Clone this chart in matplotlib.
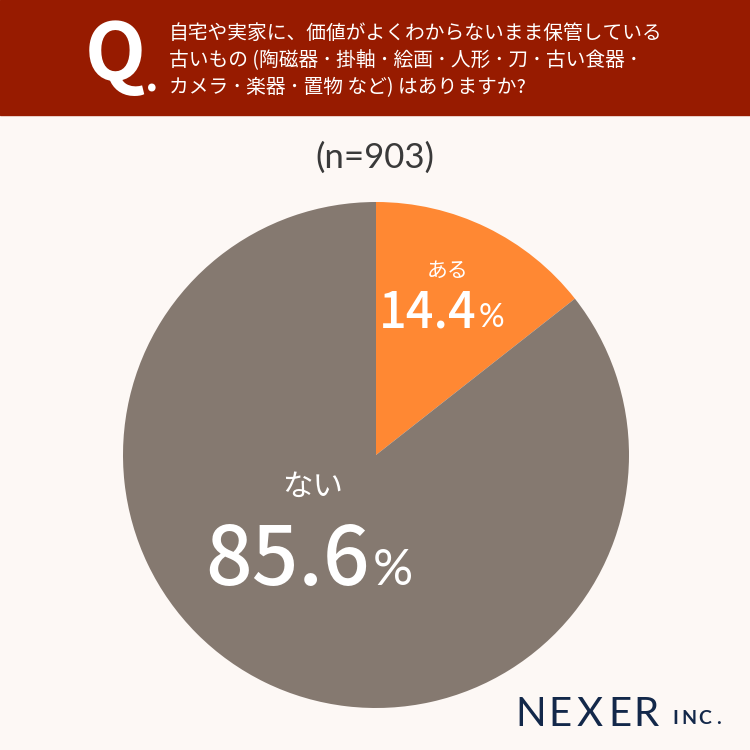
import matplotlib.pyplot as plt
from matplotlib.patches import Rectangle

plt.rcParams['font.family'] = ['Noto Sans CJK JP', 'DejaVu Sans']

# データ
labels = ['ある', 'ない']
values = [14.4, 85.6]
colors = ['#FF8833', '#857970']
n_total = 903
sep = '\u2009･\u2009'
question = ['自宅や実家に、価値がよくわからないまま保管している',
            '古いもの (' + sep.join(['陶磁器', '掛軸', '絵画', '人形', '刀', '古い食器']) + sep,
            sep.join(['カメラ', '楽器', '置物 など) はありますか?'])]

W, H = 750, 750
fig = plt.figure(figsize=(7.5, 7.5), dpi=100)
fig.patch.set_facecolor('#FDF8F5')
ax = fig.add_axes([0, 0, 1, 1])


def py(y):
    # ピクセル座標(上から)を変換
    return H - y


num_font = ['Lato', 'DejaVu Sans']
jp_font = ['Noto Sans CJK JP', 'DejaVu Sans']

# 円グラフ
cx, cy, r = 376, py(455), 253
ax.pie(values, colors=colors, startangle=90, counterclock=False,
       center=(cx, cy), radius=r, frame=True,
       wedgeprops=dict(linewidth=0))
ax.set_xlim(0, W)
ax.set_ylim(0, H)
ax.set_aspect('equal')
ax.axis('off')

# ヘッダー
ax.add_patch(Rectangle((0, py(115)), W, 115, color='#971B00', zorder=1))
ax.text(85, py(80), 'Q', color='white', fontsize=57, fontweight='bold',
        va='baseline', zorder=2)
ax.text(145, py(92), '.', color='white', fontsize=30, fontweight='bold',
        va='baseline', zorder=2)
for i, line in enumerate(question):
    ax.text(169, py(33 + i * 27.5), line, color='white', fontsize=14.2,
            va='center', ha='left', zorder=2)

ax.text(375, py(158), f'(n={n_total})', color='#3A3A3A', fontsize=25,
        ha='center', va='center', family=num_font)

# ラベル
ax.text(448, py(271), labels[0], color='white', fontsize=15, ha='center', va='center')
ax.text(477, py(327), f'{values[0]}', color='white', fontsize=35, fontweight='medium',
        ha='right', va='baseline', family=jp_font)
ax.text(479, py(327), '%', color='white', fontsize=23,
        ha='left', va='baseline', family=num_font)

ax.text(313, py(487), labels[1], color='white', fontsize=22, ha='center', va='center')
ax.text(370, py(585), f'{values[1]}', color='white', fontsize=59, fontweight='medium',
        ha='right', va='baseline', family=jp_font)
ax.text(373, py(585), '%', color='white', fontsize=36,
        ha='left', va='baseline', family=num_font)

# ロゴ
navy = '#13284A'
for ch, x in zip('NEXER', [515, 548, 577, 608, 633]):
    ax.text(x, py(726), ch, color=navy, fontsize=29, ha='left', va='baseline',
            family=num_font)
for ch, x in zip('INC.', [672, 681, 698, 716]):
    ax.text(x, py(724), ch, color=navy, fontsize=14, fontweight='bold',
            ha='left', va='baseline', family=num_font)

fig.savefig('out.png', dpi=100, facecolor=fig.get_facecolor())
